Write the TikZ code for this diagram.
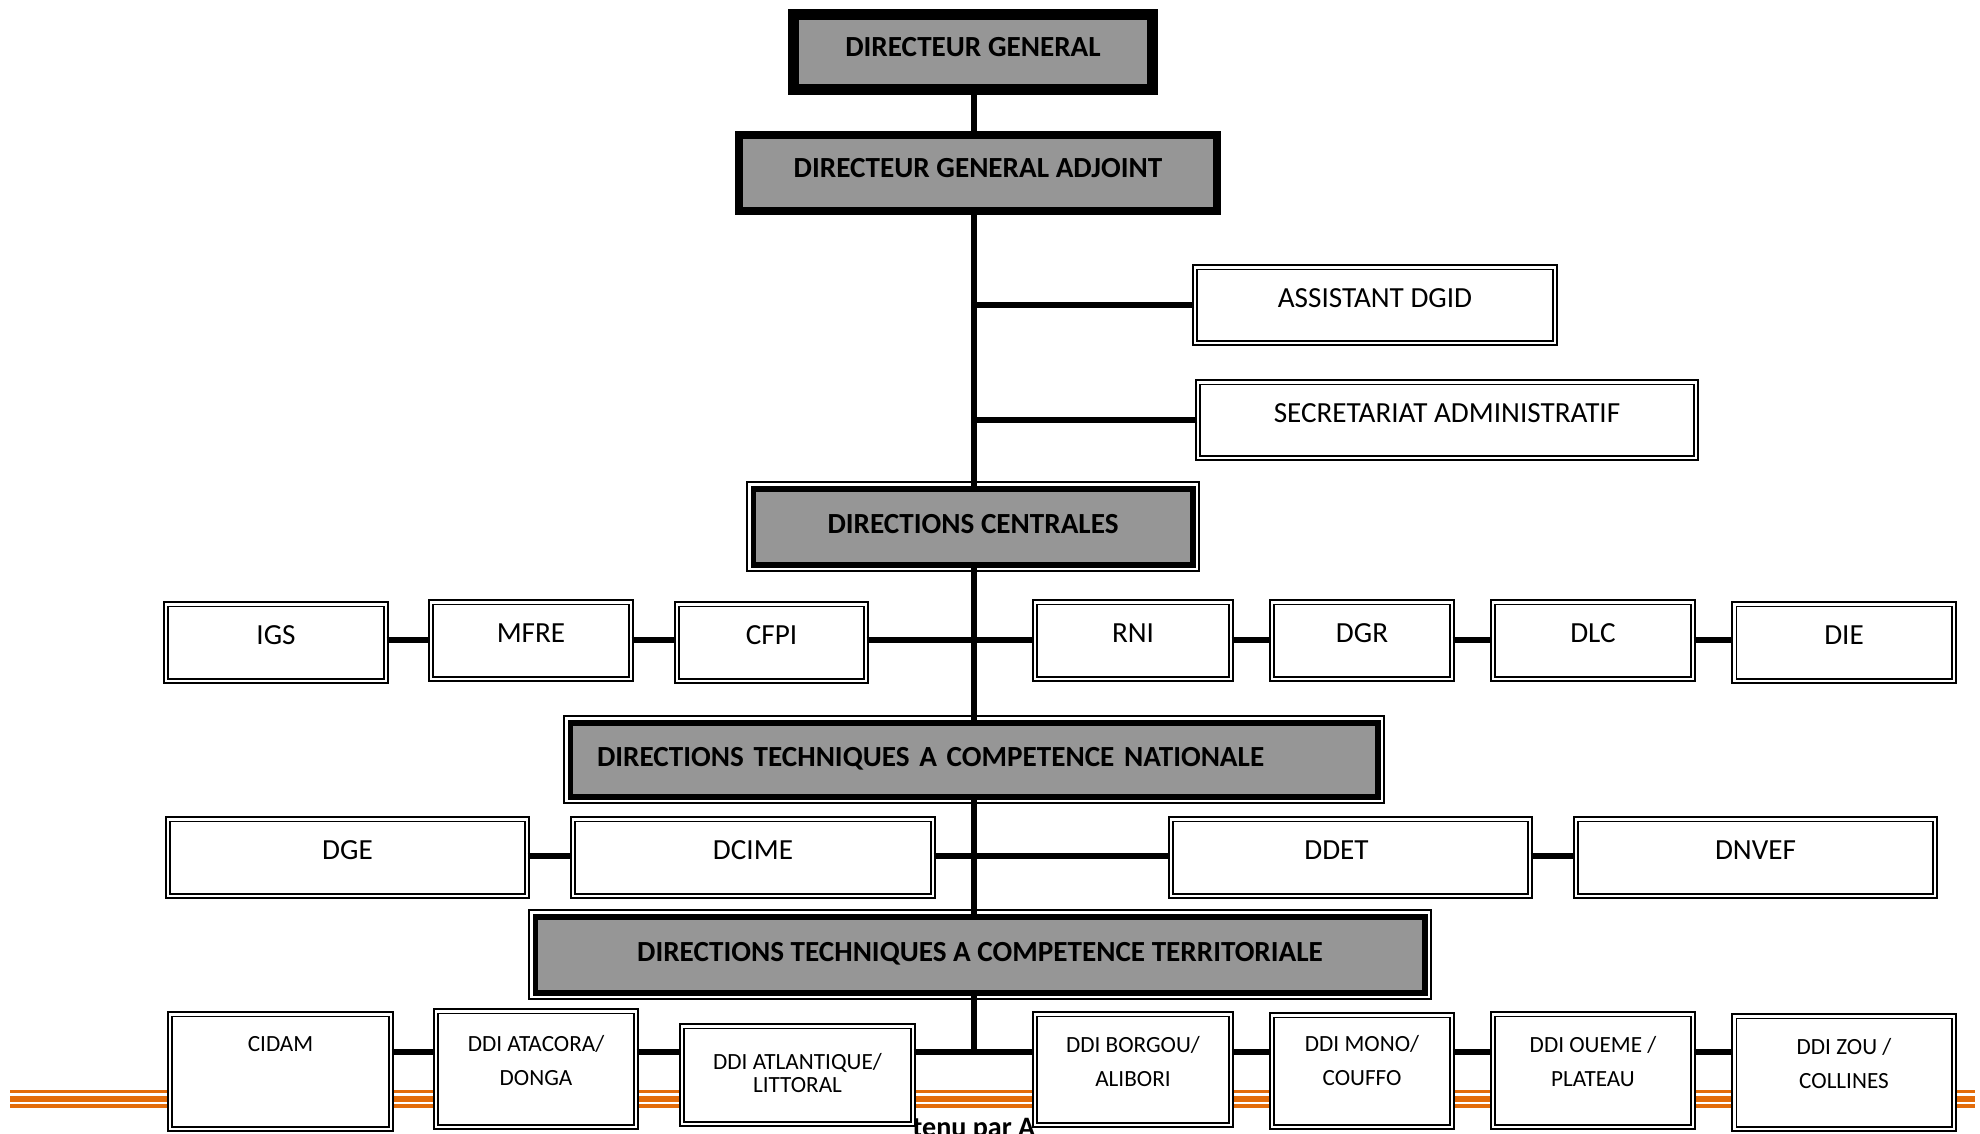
\documentclass[tikz,border=0pt]{standalone}
\usepackage{fontspec}
\setmainfont{Carlito}
\definecolor{ink}{HTML}{000000}
\definecolor{boxgray}{HTML}{969696}
\definecolor{footorange}{HTML}{E36C0A}

\tikzset{
  link/.style={ink,line width=1.6pt},
  headbox/.style={draw=ink,fill=boxgray,inner sep=0pt,text height=5.3pt,text depth=1.5pt,
    font=\bfseries\fontsize{8.3}{10}\selectfont},
  framebox/.style={headbox,line width=1.7pt,append after command={\pgfextra{
    \draw[ink,line width=0.45pt] ([shift={(-1.06pt,1.06pt)}]\tikzlastnode.north west)
      rectangle ([shift={(1.06pt,-1.06pt)}]\tikzlastnode.south east);
    \draw[ink,line width=0.45pt] ([shift={(2.5pt,-2.5pt)}]\tikzlastnode.north west)
      rectangle ([shift={(-2.5pt,2.5pt)}]\tikzlastnode.south east);}}},
  unitbox/.style={draw=ink,fill=white,line width=0.55pt,double=white,double distance=0.7pt,
    inner sep=0pt,text height=5.35pt,text depth=4.2pt,font=\fontsize{8.3}{10}\selectfont},
  ddilabel/.style={anchor=north,inner sep=0pt,align=center,font=\fontsize{6.6}{9.7}\selectfont}
}

\begin{document}
\begin{tikzpicture}[x=1cm,y=-1cm]
  \useasboundingbox (0,0) rectangle (19.8,11.33);
  \clip (0,0) rectangle (19.8,11.33);
  % footer rule of the page, behind the last row
  \draw[footorange,line width=0.94pt] (0.10,10.917) -- (19.75,10.917);
  \draw[footorange,line width=1.7pt] (0.10,10.987) -- (19.75,10.987);
  \draw[footorange,line width=1.05pt] (0.10,11.062) -- (19.75,11.062);
  \node[anchor=north west,inner sep=0pt,font=\bfseries\fontsize{8}{10}\selectfont] (foot) at (9.12,11.18) {tenu par A};
  % spine and the three rows
  \coordinate (spine) at (9.74,0);
  \coordinate (row1) at (9.74,6.40);
  \coordinate (row2) at (9.74,8.56);
  \coordinate (row3) at (9.74,10.52);
  % direction
  \node[headbox,line width=3.1pt,text depth=2.5pt,minimum width=3.59cm,minimum height=0.75cm] (dg) at (9.73,0.52) {DIRECTEUR GENERAL};
  \node[headbox,line width=2.3pt,text depth=2.5pt,minimum width=4.78cm,minimum height=0.76cm] (dga) at (9.78,1.73) {DIRECTEUR GENERAL ADJOINT};
  \node[unitbox,minimum width=3.60cm,minimum height=0.755cm] (assist) at (13.75,3.05) {ASSISTANT DGID};
  \node[unitbox,minimum width=4.975cm,minimum height=0.755cm] (secret) at (14.47,4.20) {SECRETARIAT ADMINISTRATIF};
  % directions centrales
  \node[framebox,minimum width=4.39cm,minimum height=0.76cm] (dc) at (9.73,5.265) {DIRECTIONS CENTRALES};
  \node[unitbox,minimum width=2.195cm,minimum height=0.765cm] (igs) at (2.76,6.425) {IGS};
  \node[unitbox,minimum width=1.995cm,minimum height=0.765cm] (mfre) at (5.31,6.405) {MFRE};
  \node[unitbox,minimum width=1.885cm,minimum height=0.765cm] (cfpi) at (7.715,6.425) {CFPI};
  \node[unitbox,minimum width=1.955cm,minimum height=0.765cm] (rni) at (11.33,6.405) {RNI};
  \node[unitbox,minimum width=1.795cm,minimum height=0.765cm] (dgr) at (13.62,6.405) {DGR};
  \node[unitbox,minimum width=1.995cm,minimum height=0.765cm] (dlc) at (15.93,6.405) {DLC};
  \node[unitbox,minimum width=2.195cm,minimum height=0.765cm] (die) at (18.44,6.425) {DIE};
  % competence nationale
  \node[framebox,minimum width=8.07cm,minimum height=0.74cm,text width=7.54cm,align=left] (dtcn) at (9.74,7.595) {DIRECTIONS TECHNIQUES A COMPETENCE NATIONALE};
  \node[unitbox,minimum width=3.585cm,minimum height=0.765cm] (dge) at (3.475,8.575) {DGE};
  \node[unitbox,minimum width=3.595cm,minimum height=0.765cm] (dcime) at (7.53,8.575) {DCIME};
  \node[unitbox,minimum width=3.585cm,minimum height=0.765cm] (ddet) at (13.505,8.575) {DDET\kern0.28cm};
  \node[unitbox,minimum width=3.585cm,minimum height=0.765cm] (dnvef) at (17.555,8.575) {DNVEF};
  % competence territoriale
  \node[framebox,minimum width=8.89cm,minimum height=0.76cm] (dtct) at (9.80,9.545) {DIRECTIONS TECHNIQUES A COMPETENCE TERRITORIALE};
  \node[unitbox,minimum width=2.205cm,minimum height=1.145cm] (cidam) at (2.805,10.715) {};
  \node[unitbox,minimum width=1.995cm,minimum height=1.155cm] (atacora) at (5.36,10.69) {};
  \node[unitbox,minimum width=2.305cm,minimum height=0.975cm] (atlantique) at (7.975,10.75) {};
  \node[unitbox,minimum width=1.955cm,minimum height=1.105cm] (borgou) at (11.33,10.695) {};
  \node[unitbox,minimum width=1.795cm,minimum height=1.115cm] (mono) at (13.62,10.71) {};
  \node[unitbox,minimum width=1.995cm,minimum height=1.125cm] (oueme) at (15.93,10.705) {};
  \node[unitbox,minimum width=2.195cm,minimum height=1.125cm] (zou) at (18.44,10.725) {};
  \node[ddilabel] (cidamtext) at (2.805,10.355) {CIDAM};
  \node[ddilabel] (atacoratext) at (5.36,10.345) {DDI ATACORA/\\DONGA};
  \node[ddilabel,font=\fontsize{6.6}{6.5}\selectfont] (atlantiquetext) at (7.975,10.525) {DDI ATLANTIQUE/\\LITTORAL};
  \node[ddilabel] (borgoutext) at (11.33,10.355) {DDI BORGOU/\\ALIBORI};
  \node[ddilabel] (monotext) at (13.62,10.345) {DDI MONO/\\COUFFO};
  \node[ddilabel] (ouemetext) at (15.93,10.355) {DDI OUEME /\\PLATEAU};
  \node[ddilabel] (zoutext) at (18.44,10.375) {DDI ZOU /\\COLLINES};
  % spine
  \draw[link] (dg.south -| spine) -- (dga.north -| spine);
  \draw[link] (dga.south -| spine) -- (dc.north -| spine);
  \draw[link] (assist.west) -- (assist.west -| spine);
  \draw[link] (secret.west) -- (secret.west -| spine);
  \draw[link] (dc.south -| spine) -- (dtcn.north -| spine);
  \draw[link] (dtcn.south -| spine) -- (dtct.north -| spine);
  \draw[link] (dtct.south -| spine) -- (row3);
  % row links
  \draw[link] (igs.east |- row1) -- (mfre.west |- row1);
  \draw[link] (mfre.east |- row1) -- (cfpi.west |- row1);
  \draw[link] (cfpi.east |- row1) -- (rni.west |- row1);
  \draw[link] (rni.east |- row1) -- (dgr.west |- row1);
  \draw[link] (dgr.east |- row1) -- (dlc.west |- row1);
  \draw[link] (dlc.east |- row1) -- (die.west |- row1);
  \draw[link] (dge.east |- row2) -- (dcime.west |- row2);
  \draw[link] (dcime.east |- row2) -- (ddet.west |- row2);
  \draw[link] (ddet.east |- row2) -- (dnvef.west |- row2);
  \draw[link] (cidam.east |- row3) -- (atacora.west |- row3);
  \draw[link] (atacora.east |- row3) -- (atlantique.west |- row3);
  \draw[link] (atlantique.east |- row3) -- (borgou.west |- row3);
  \draw[link] (borgou.east |- row3) -- (mono.west |- row3);
  \draw[link] (mono.east |- row3) -- (oueme.west |- row3);
  \draw[link] (oueme.east |- row3) -- (zou.west |- row3);
\end{tikzpicture}
\end{document}
